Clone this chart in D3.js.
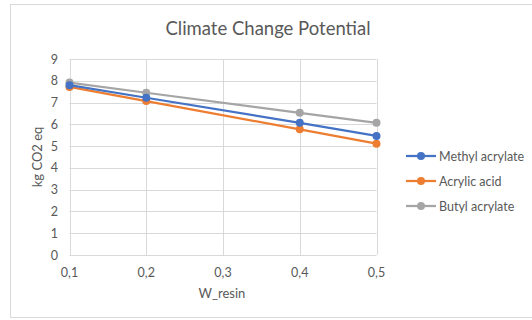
<!DOCTYPE html>
<meta charset="utf-8">
<script src="https://d3js.org/d3.v7.min.js"></script>
<style>
  body { margin: 0; background: #fff; }
  text { font-family: Lato, "Open Sans", sans-serif; fill: #595959; }
</style>
<svg id="chart" width="532" height="320"></svg>
<script>

// data
var wResin = [0.1, 0.2, 0.4, 0.5];
var methylAcrylate = [7.8, 7.22, 6.07, 5.47];
var acrylicAcid = [7.72, 7.07, 5.77, 5.11];
var butylAcrylate = [7.92, 7.45, 6.53, 6.07];
var seriesNames = ["Methyl acrylate", "Acrylic acid", "Butyl acrylate"];
var seriesColors = ["#4472c4", "#ed7d31", "#a5a5a5"];
var xTicks = [0.1, 0.2, 0.3, 0.4, 0.5];
var yTicks = [0, 1, 2, 3, 4, 5, 6, 7, 8, 9];

var svg = d3.select("#chart");

// outer chart border
svg.append("rect")
  .attr("x", 10.5).attr("y", 4.5)
  .attr("width", 540).attr("height", 313)
  .attr("fill", "#fff")
  .attr("stroke", "#d9d9d9");

var x = d3.scaleLinear().domain([0.1, 0.5]).range([69.5, 376.5]);
var y = d3.scaleLinear().domain([0, 9]).range([255, 59]);

// gridlines
svg.append("g")
  .selectAll("line")
  .data(yTicks)
  .enter()
  .append("line")
    .attr("x1", x(0.1)).attr("x2", x(0.5))
    .attr("y1", function (d) { return Math.round(y(d)) + 0.5; })
    .attr("y2", function (d) { return Math.round(y(d)) + 0.5; })
    .attr("stroke", "#d9d9d9");

svg.append("g")
  .selectAll("line")
  .data(xTicks)
  .enter()
  .append("line")
    .attr("x1", function (d) { return Math.round(x(d)) + 0.5; })
    .attr("x2", function (d) { return Math.round(x(d)) + 0.5; })
    .attr("y1", y(9)).attr("y2", y(0))
    .attr("stroke", "#d9d9d9");

// tick labels
svg.append("g")
  .selectAll("text")
  .data(yTicks)
  .enter()
  .append("text")
    .attr("x", 58)
    .attr("y", function (d) { return y(d) + 4.5; })
    .attr("text-anchor", "end")
    .style("font-size", "12.5px")
    .text(function (d) { return d; });

svg.append("g")
  .selectAll("text")
  .data(xTicks)
  .enter()
  .append("text")
    .attr("x", function (d) { return x(d); })
    .attr("y", 277)
    .attr("text-anchor", "middle")
    .style("font-size", "12.5px")
    .text(function (d) { return d3.format(".1f")(d).replace(".", ","); });

// titles
svg.append("text")
  .attr("x", 268).attr("y", 35)
  .attr("text-anchor", "middle")
  .style("font-size", "18.5px")
  .text("Climate Change Potential");

svg.append("text")
  .attr("x", 222).attr("y", 298)
  .attr("text-anchor", "middle")
  .style("font-size", "13px")
  .text("W_resin");

svg.append("text")
  .attr("transform", "translate(42,157) rotate(-90)")
  .attr("text-anchor", "middle")
  .style("font-size", "13px")
  .text("kg CO2 eq");

// series
var allSeries = [methylAcrylate, acrylicAcid, butylAcrylate];
var line = d3.line()
  .x(function (d, i) { return x(wResin[i]); })
  .y(function (d) { return y(d); });

// draw in reverse so blue ends on top, as in the picture
[2, 1, 0].forEach(function (k) {
  var g = svg.append("g");
  g.append("path")
    .attr("d", line(allSeries[k]))
    .attr("fill", "none")
    .attr("stroke", seriesColors[k])
    .attr("stroke-width", 2.25);
  g.selectAll("circle")
    .data(allSeries[k])
    .enter()
    .append("circle")
      .attr("cx", function (d, i) { return x(wResin[i]); })
      .attr("cy", function (d) { return y(d); })
      .attr("r", 4)
      .attr("fill", seriesColors[k]);
});

// legend
var legend = svg.append("g")
  .selectAll("g")
  .data(seriesNames)
  .enter()
  .append("g")
    .attr("transform", function (d, i) { return "translate(406," + (156 + i * 25) + ")"; });

legend.append("line")
  .attr("x1", 0).attr("x2", 30)
  .attr("stroke", function (d, i) { return seriesColors[i]; })
  .attr("stroke-width", 2.25);

legend.append("circle")
  .attr("cx", 15).attr("r", 4)
  .attr("fill", function (d, i) { return seriesColors[i]; });

legend.append("text")
  .attr("x", 33).attr("y", 4.5)
  .style("font-size", "12.5px")
  .text(function (d) { return d; });

</script>
